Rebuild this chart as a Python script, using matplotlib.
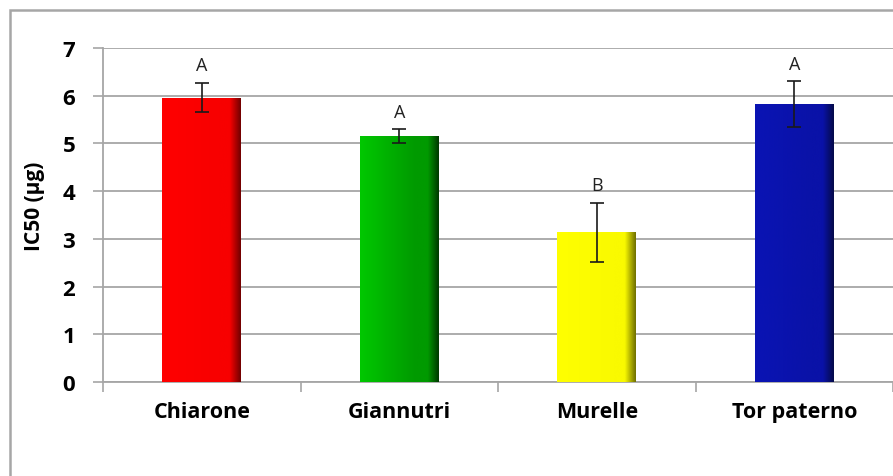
import numpy as np
import matplotlib
matplotlib.use("Agg")
import matplotlib.pyplot as plt
from matplotlib.colors import LinearSegmentedColormap
from matplotlib.patches import Rectangle

sites = ["Chiarone", "Giannutri", "Murelle", "Tor paterno"]
ic50 = [5.96, 5.15, 3.14, 5.83]
ic50_err = [0.31, 0.15, 0.62, 0.48]
groups = ["A", "A", "B", "A"]
y_ticks = [0, 1, 2, 3, 4, 5, 6, 7]

# (light, mid, dark) shades for the horizontal bar gradient
shades = [
    ("#ff0000", "#f80000", "#700000"),
    ("#00c800", "#009a00", "#003800"),
    ("#ffff00", "#fafa00", "#6e6e00"),
    ("#0a14b4", "#0a12a8", "#040a48"),
]

fig = plt.figure(figsize=(8.93, 4.77), dpi=100)
ax = fig.add_axes([103 / 893, 1 - 383 / 477, 790 / 893, (383 - 49) / 477])

# outer chart frame
fig.patches.append(Rectangle((10 / 893, -0.1), 1.2, (477 - 11) / 477 + 0.1,
                             transform=fig.transFigure, fill=False,
                             edgecolor="#a6a6a6", linewidth=1.8, zorder=0))

x = np.arange(len(sites))
bars = ax.bar(x, ic50, width=0.4, color="none", edgecolor="none", zorder=3)

for bar, (c0, c1, c2) in zip(bars, shades):
    cmap = LinearSegmentedColormap.from_list(
        "g", [(0.0, c0), (0.70, c1), (0.86, c1), (1.0, c2)])
    grad = np.linspace(0, 1, 256).reshape(1, -1)
    x0, w = bar.get_x(), bar.get_width()
    im = ax.imshow(grad, cmap=cmap, aspect="auto", zorder=3,
                   extent=(x0, x0 + w, 0, bar.get_height()),
                   interpolation="bicubic")
    im.set_clip_path(bar)

ax.errorbar(x, ic50, yerr=ic50_err, fmt="none", ecolor="#1a1a1a",
            elinewidth=1.2, capsize=5, capthick=1.2, zorder=4)

for xi, v, e, g in zip(x, ic50, ic50_err, groups):
    ax.annotate(g, (xi, v + e), xytext=(0, 6), textcoords="offset points",
                ha="center", va="bottom", fontsize=13,
                family="Open Sans", color="#222222")

ax.set_xlim(-0.5, len(sites) - 0.5)
ax.set_ylim(0, 7)
ax.set_yticks(y_ticks)
ax.set_yticklabels([str(t) for t in y_ticks], fontsize=16, fontweight="bold",
                   family="Open Sans")
ax.set_xticks(x)
ax.set_xticklabels(sites, fontsize=15.5, fontweight="bold", family="Open Sans")
ax.set_xticks(np.arange(-0.5, len(sites), 1.0), minor=True)
ax.tick_params(axis="x", which="major", length=0, pad=14)
ax.tick_params(axis="x", which="minor", length=7, color="#a6a6a6", width=1.2)
ax.tick_params(axis="y", length=7, color="#a6a6a6", width=1.2, pad=13)

ax.set_ylabel("IC50 (µg)", fontsize=15, fontweight="bold", family="Open Sans")
ax.yaxis.set_label_coords(-0.074, 0.53)

ax.grid(axis="y", color="#a6a6a6", linewidth=1.3, zorder=0)
ax.set_axisbelow(True)
for s in ["top", "right"]:
    ax.spines[s].set_visible(False)
for s in ["left", "bottom"]:
    ax.spines[s].set_color("#a6a6a6")
    ax.spines[s].set_linewidth(1.3)

fig.savefig("out.png", dpi=100)
